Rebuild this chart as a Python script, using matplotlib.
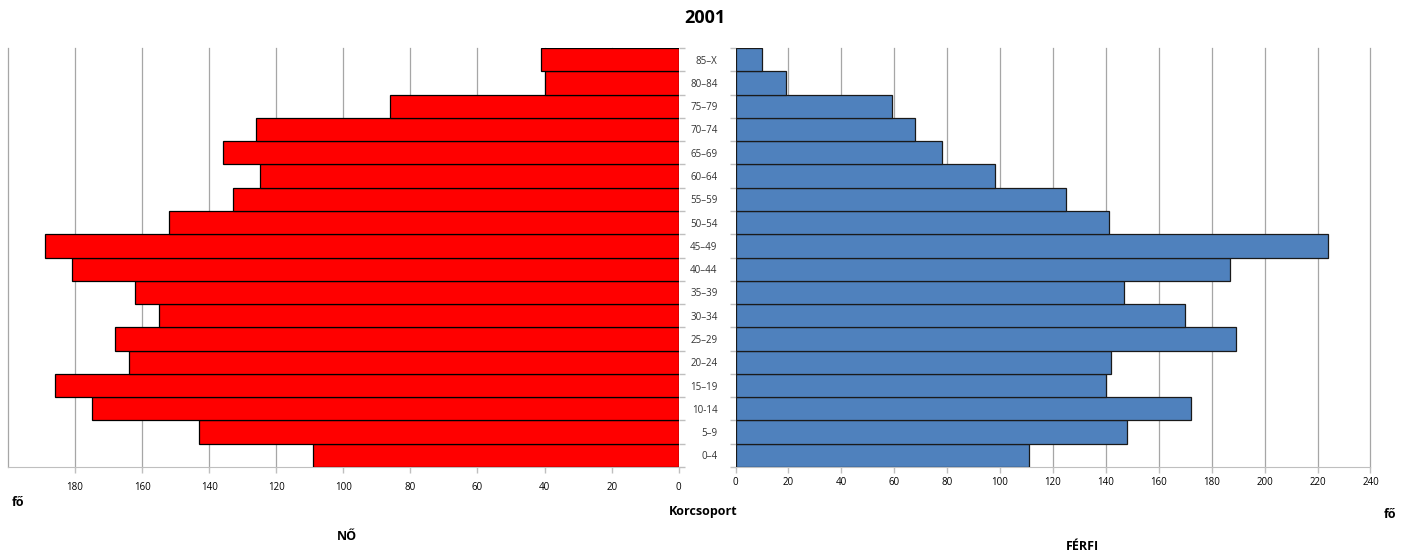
import matplotlib.pyplot as plt
import numpy as np

# korcsoportok alulról felfelé
korcsoport = ['0–4', '5–9', '10-14', '15–19', '20–24', '25–29', '30–34', '35–39',
              '40–44', '45–49', '50–54', '55–59', '60–64', '65–69', '70–74',
              '75–79', '80–84', '85–X']
no = [109, 143, 175, 186, 164, 168, 155, 162, 181, 189, 152, 133, 125, 136, 126, 86, 40, 41]
ferfi = [111, 148, 172, 140, 142, 189, 170, 147, 187, 224, 141, 125, 98, 78, 68, 59, 19, 10]
no_ticks = [0, 20, 40, 60, 80, 100, 120, 140, 160, 180]
ferfi_ticks = [0, 20, 40, 60, 80, 100, 120, 140, 160, 180, 200, 220, 240]

plt.rcParams['font.family'] = ['Open Sans', 'DejaVu Sans']

fig = plt.figure(figsize=(14.12, 5.54), dpi=100)
W, H = 1412, 554
bottom = 1 - 467 / H
height = (467 - 48) / H
ax1 = fig.add_axes([8 / W, bottom, (678.7 - 8) / W, height])
ax2 = fig.add_axes([735.5 / W, bottom, (1370.5 - 735.5) / W, height])

y = np.arange(len(korcsoport))
gridcol = '#a6a6a6'
axcol = '#bfbfbf'

# nők - bal oldal
ax1.barh(y, no, height=1.0, color='#ff0000', edgecolor='black', linewidth=0.9, zorder=3)
ax1.set_xlim(200, 0)
ax1.set_ylim(-0.5, len(korcsoport) - 0.5)
ax1.set_xticks(no_ticks)
ax1.set_xticklabels([str(t) for t in no_ticks])
for t in no_ticks[1:] + [200]:
    ax1.axvline(t, color=gridcol, linewidth=0.9, zorder=1, clip_on=False)
ax1.yaxis.tick_right()
ax1.set_yticks(np.arange(-0.5, len(korcsoport), 1.0))
ax1.set_yticklabels([])
ax1.tick_params(axis='y', length=4, color=axcol, width=1)
ax1.tick_params(axis='x', length=4, color=axcol, width=1, pad=7, labelsize=7)
for s in ['top', 'left', 'right']:
    ax1.spines[s].set_visible(False)
ax1.spines['bottom'].set_color(axcol)

# férfiak - jobb oldal
ax2.barh(y, ferfi, height=1.0, color='#4f81bd', edgecolor='#1a1a1a', linewidth=0.9, zorder=3)
ax2.set_xlim(0, 240)
ax2.set_ylim(-0.5, len(korcsoport) - 0.5)
ax2.set_xticks(ferfi_ticks)
ax2.set_xticklabels([str(t) for t in ferfi_ticks])
for t in ferfi_ticks[1:]:
    ax2.axvline(t, color=gridcol, linewidth=0.9, zorder=1, clip_on=False)
ax2.set_yticks(y)
ax2.set_yticklabels(korcsoport, fontsize=7, color='#333333')
ax2.set_yticks(np.arange(-0.5, len(korcsoport), 1.0), minor=True)
ax2.tick_params(axis='y', which='major', length=0, pad=13)
ax2.tick_params(axis='y', which='minor', length=4, color=axcol, width=1)
ax2.tick_params(axis='x', length=4, color=axcol, width=1, pad=3, labelsize=7)
for s in ['top', 'right', 'left']:
    ax2.spines[s].set_visible(False)
ax2.spines['bottom'].set_color(axcol)

fig.text(705 / W, 1 - 18 / H, '2001', ha='center', va='center', fontsize=13, fontweight='bold')
fig.text(12 / W, 1 - 503 / H, 'fő', ha='left', va='center', fontsize=9, fontweight='bold')
fig.text(703 / W, 1 - 512 / H, 'Korcsoport', ha='center', va='center', fontsize=9, fontweight='bold')
fig.text(347 / W, 1 - 537 / H, 'NŐ', ha='center', va='center', fontsize=9, fontweight='bold')
fig.text(1082 / W, 1 - 547 / H, 'FÉRFI', ha='center', va='center', fontsize=9, fontweight='bold')
fig.text(1390 / W, 1 - 515 / H, 'fő', ha='center', va='center', fontsize=9, fontweight='bold')

fig.savefig('out.png', dpi=100)
